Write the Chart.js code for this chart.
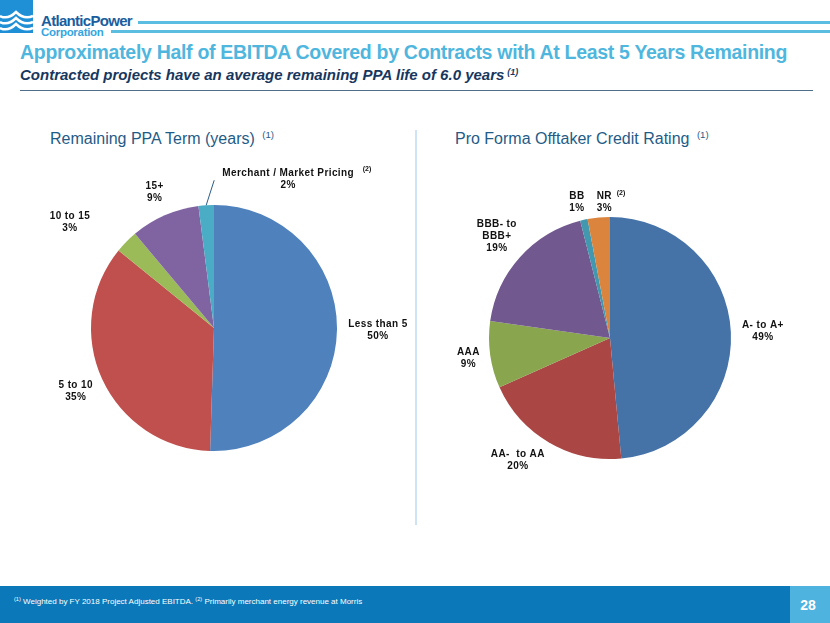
<!DOCTYPE html>
<html>
<head>
<meta charset="utf-8">
<script src="https://cdn.jsdelivr.net/npm/chart.js@4/dist/chart.umd.min.js"></script>
<style>
  html, body { margin: 0; padding: 0; }
  body { width: 830px; height: 623px; position: relative; overflow: hidden; background: #fff;
         font-family: 'Liberation Sans', Arial, sans-serif; }
  .abs { position: absolute; white-space: nowrap; }
  .logo-main { left: 41px; top: 12px; font-size: 15px; font-weight: bold; color: #1b5e9e; letter-spacing: -0.7px; }
  .logo-sub  { left: 41px; top: 26px; font-size: 11.5px; font-weight: bold; color: #35a6df; letter-spacing: -0.3px; }
  .rule1 { left: 138px; top: 21px; width: 692px; height: 3px; background: #5bbde0; }
  .rule2 { left: 111px; top: 30px; width: 719px; height: 3px; background: #5bbde0; }
  .title { left: 20px; top: 41px; font-size: 19.5px; font-weight: bold; color: #4fb6de; letter-spacing: -0.3px; }
  .subtitle { left: 20px; top: 66px; font-size: 15px; font-weight: bold; font-style: italic; color: #17375e; }
  .subtitle sup, .sect sup { font-size: 0.6em; vertical-align: 0.6em; margin-left: 3px; }
  .divider { left: 20px; top: 90px; width: 793px; height: 1px; background: #4f6e8a; }
  .sect { top: 129px; font-size: 16px; color: #1f5c87; }
  .sep { left: 415px; top: 130px; width: 2px; height: 395px; background: #cfe3f7; }
  .footer { left: 0; top: 586px; width: 830px; height: 37px; background: #0a78b9; }
  .pagebox { left: 790px; top: 586px; width: 40px; height: 37px; background: #4fb3df; }
  .pagenum { left: 790px; top: 597px; width: 36px; text-align: center; font-size: 14px; font-weight: bold; color: #fff; }
  .foot { left: 14px; top: 596px; font-size: 8px; color: #fff; }
  .foot sup { font-size: 0.7em; vertical-align: 0.5em; }
  .chartbox { position: absolute; }
</style>
</head>
<body>
<svg class="abs" style="left:0;top:0" width="34" height="34" viewBox="0 0 34 34">
  <rect x="0" y="0" width="33" height="33" fill="#1f8fd6"/>
  <path d="M0 16 Q8 20 16 12 Q24 20 33 16" stroke="#fff" stroke-width="2.5" fill="none"/>
  <path d="M0 22 Q8 26 16 18 Q24 26 33 22" stroke="#fff" stroke-width="2.5" fill="none"/>
  <path d="M0 28 Q8 32 16 24 Q24 32 33 28" stroke="#fff" stroke-width="2.5" fill="none"/>
</svg>
<div class="abs logo-main">AtlanticPower</div>
<div class="abs logo-sub">Corporation</div>
<div class="abs rule1"></div>
<div class="abs rule2"></div>
<div class="abs title">Approximately Half of EBITDA Covered by Contracts with At Least 5 Years Remaining</div>
<div class="abs subtitle">Contracted projects have an average remaining PPA life of 6.0 years<sup>(1)</sup></div>
<div class="abs divider"></div>
<div class="abs sect" style="left:50px">Remaining PPA Term (years) <sup>(1)</sup></div>
<div class="abs sect" style="left:455px">Pro Forma Offtaker Credit Rating <sup>(1)</sup></div>
<div class="abs sep"></div>

<div class="chartbox" style="left:20px;top:160px;width:388px;height:336px"><canvas id="ppa"></canvas></div>
<div class="chartbox" style="left:420px;top:170px;width:380px;height:336px"><canvas id="credit"></canvas></div>

<div class="abs footer"></div>
<div class="abs pagebox"></div>
<div class="abs pagenum">28</div>
<div class="abs foot"><sup>(1)</sup> Weighted by FY 2018 Project Adjusted EBITDA. <sup>(2)</sup> Primarily merchant energy revenue at Morris</div>

<script>
// --- data ---
var ppaLabels = ['Less than 5', '5 to 10', '10 to 15', '15+', 'Merchant / Market Pricing'];
var ppaValues = [50, 35, 3, 9, 2];
var ppaNotes = ['', '', '', '', '(2)'];
var ppaColors = ['#4f81bd', '#c0504d', '#9bbb59', '#8064a2', '#4bacc6'];

var creditLabels = ['A- to A+', 'AA-  to AA', 'AAA', 'BBB- to\nBBB+', 'BB', 'NR'];
var creditValues = [49, 20, 9, 19, 1, 3];
var creditNotes = ['', '', '', '', '', '(2)'];
var creditColors = ['#4572a7', '#aa4643', '#89a54e', '#71588f', '#4198af', '#db843d'];

// --- slice labels: name + percent, placed outside each arc ---
var sliceLabels = {
  id: 'sliceLabels',
  afterDatasetsDraw: function(chart, args, opts) {
    var ctx = chart.ctx;
    var meta = chart.getDatasetMeta(0);
    var vals = chart.data.datasets[0].data;
    ctx.save();
    ctx.fillStyle = '#111';
    ctx.textAlign = 'center';
    ctx.textBaseline = 'middle';
    meta.data.forEach(function(arc, i) {
      var o = opts.offsets[i] || { r: 20 };
      var mid = (arc.startAngle + arc.endAngle) / 2;
      var x, y;
      if (o.leader) {
        var ex = arc.x + Math.cos(mid) * arc.outerRadius;
        var ey = arc.y + Math.sin(mid) * arc.outerRadius;
        var lx = ex + o.leader[0], ly = ey + o.leader[1];
        ctx.strokeStyle = '#2a5d86';
        ctx.lineWidth = 1;
        ctx.beginPath(); ctx.moveTo(ex, ey); ctx.lineTo(lx, ly); ctx.stroke();
        x = lx + (o.dx || 0); y = ly + (o.dy || 0);
      } else {
        var rr = arc.outerRadius + o.r;
        x = arc.x + Math.cos(mid) * rr + (o.dx || 0);
        y = arc.y + Math.sin(mid) * rr + (o.dy || 0);
      }
      var lines = String(chart.data.labels[i]).split('\n');
      lines.push(vals[i] + '%');
      var lh = 12;
      var top = y - (lines.length - 1) * lh / 2;
      ctx.font = 'bold 10px "Liberation Sans", Arial, sans-serif';
      ctx.letterSpacing = '0.4px';
      lines.forEach(function(t, k) { ctx.fillText(t, x, top + k * lh); });
      var note = opts.notes[i];
      if (note) {
        var w = ctx.measureText(lines[0]).width;
        ctx.font = 'bold 7px "Liberation Sans", Arial, sans-serif';
        ctx.letterSpacing = '0px';
        ctx.fillText(note, x + w / 2 + (o.noteGap || 4) + 5, top - 4);
      }
    });
    ctx.restore();
  }
};

function pieOptions(pad, offsets, notes) {
  return {
    responsive: true,
    maintainAspectRatio: false,
    animation: false,
    layout: { padding: pad },
    plugins: {
      legend: { display: false },
      tooltip: { enabled: false },
      sliceLabels: { offsets: offsets, notes: notes }
    }
  };
}

new Chart(document.getElementById('ppa'), {
  type: 'pie',
  data: {
    labels: ppaLabels,
    datasets: [{ data: ppaValues, backgroundColor: ppaColors, borderWidth: 0 }]
  },
  options: pieOptions(45, [
    { r: 41 },
    { r: 29 },
    { r: 37, dx: -30, dy: 6 },
    { r: 25 },
    { leader: [8, -25], dx: 74, dy: -1, noteGap: 8 }
  ], ppaNotes),
  plugins: [sliceLabels]
});

new Chart(document.getElementById('credit'), {
  type: 'pie',
  data: {
    labels: creditLabels,
    datasets: [{ data: creditValues, backgroundColor: creditColors, borderWidth: 0 }]
  },
  options: pieOptions({ top: 47, bottom: 47, left: 69, right: 69 }, [
    { r: 32 },
    { r: 32, dx: -15, dy: -10 },
    { r: 22 },
    { r: 31 },
    { r: 18, dx: -3 },
    { r: 15, dx: 7 }
  ], creditNotes),
  plugins: [sliceLabels]
});
</script>
</body>
</html>
